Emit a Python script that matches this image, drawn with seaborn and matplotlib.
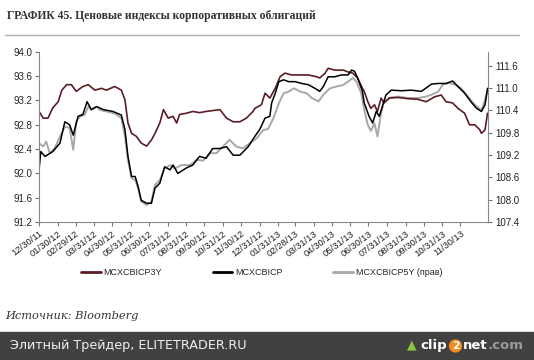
import matplotlib
matplotlib.use("Agg")
import matplotlib.pyplot as plt
import seaborn as sns
import pandas as pd
from matplotlib.patches import Rectangle
from matplotlib.lines import Line2D

# MCXCBICP3Y (left axis)
dates_3y = ["2011-12-30", "2012-01-06", "2012-01-14", "2012-01-22", "2012-01-31", "2012-02-06",
            "2012-02-14", "2012-02-22", "2012-03-01", "2012-03-12", "2012-03-21", "2012-04-01",
            "2012-04-12", "2012-04-20", "2012-05-04", "2012-05-15", "2012-05-21", "2012-05-26",
            "2012-06-01", "2012-06-09", "2012-06-17", "2012-06-26", "2012-07-04", "2012-07-10",
            "2012-07-18", "2012-07-24", "2012-08-01", "2012-08-09", "2012-08-15", "2012-08-20",
            "2012-08-31", "2012-09-11", "2012-09-22", "2012-10-03", "2012-10-26", "2012-11-06",
            "2012-11-17", "2012-11-28", "2012-12-09", "2012-12-20", "2012-12-23", "2013-01-03",
            "2013-01-09", "2013-01-17", "2013-01-26", "2013-02-03", "2013-02-11", "2013-02-22",
            "2013-03-05", "2013-03-22", "2013-04-05", "2013-04-10", "2013-04-19", "2013-04-24",
            "2013-05-05", "2013-05-19", "2013-05-27", "2013-06-04", "2013-06-12", "2013-06-20",
            "2013-06-23", "2013-06-29", "2013-07-04", "2013-07-10", "2013-07-15", "2013-07-21",
            "2013-07-26", "2013-08-04", "2013-08-18", "2013-09-04", "2013-09-20", "2013-10-04",
            "2013-10-18", "2013-10-29", "2013-11-06", "2013-11-17", "2013-11-26", "2013-12-07",
            "2013-12-15", "2013-12-24", "2014-01-01", "2014-01-04", "2014-01-10", "2014-01-14"]
values_3y = [93.02, 92.91, 92.91, 93.08, 93.18, 93.37,
             93.46, 93.46, 93.35, 93.43, 93.46, 93.37,
             93.40, 93.37, 93.43, 93.37, 93.21, 92.83,
             92.66, 92.61, 92.50, 92.45, 92.55, 92.66,
             92.83, 93.05, 92.91, 92.94, 92.83, 92.97,
             92.99, 93.02, 93.00, 93.02, 93.05, 92.91,
             92.85, 92.85, 92.91, 93.02, 93.07, 93.13,
             93.32, 93.24, 93.40, 93.59, 93.65, 93.62,
             93.62, 93.62, 93.59, 93.57, 93.65, 93.73,
             93.70, 93.70, 93.67, 93.65, 93.57, 93.40,
             93.35, 93.18, 93.07, 93.13, 93.02, 93.24,
             93.16, 93.24, 93.25, 93.23, 93.22, 93.18,
             93.26, 93.29, 93.18, 93.16, 93.07, 92.99,
             92.80, 92.80, 92.72, 92.66, 92.72, 92.99]

# MCXCBICP (left axis)
dates_cp = ["2011-12-30", "2012-01-02", "2012-01-09", "2012-01-22", "2012-02-03", "2012-02-11",
            "2012-02-19", "2012-02-25", "2012-03-04", "2012-03-12", "2012-03-19", "2012-03-26",
            "2012-04-04", "2012-04-15", "2012-05-01", "2012-05-15", "2012-05-21", "2012-05-26",
            "2012-06-01", "2012-06-07", "2012-06-12", "2012-06-17", "2012-06-26", "2012-07-04",
            "2012-07-10", "2012-07-18", "2012-07-26", "2012-08-04", "2012-08-09", "2012-08-17",
            "2012-08-31", "2012-09-11", "2012-09-22", "2012-10-03", "2012-10-14", "2012-10-26",
            "2012-11-06", "2012-11-17", "2012-11-28", "2012-12-12", "2012-12-23", "2012-12-31",
            "2013-01-09", "2013-01-17", "2013-01-20", "2013-01-26", "2013-02-01", "2013-02-09",
            "2013-02-17", "2013-02-28", "2013-03-11", "2013-03-22", "2013-04-02", "2013-04-10",
            "2013-04-16", "2013-04-24", "2013-05-05", "2013-05-16", "2013-05-27", "2013-06-02",
            "2013-06-07", "2013-06-12", "2013-06-20", "2013-06-23", "2013-07-01", "2013-07-07",
            "2013-07-13", "2013-07-18", "2013-07-24", "2013-07-29", "2013-08-07", "2013-08-24",
            "2013-09-09", "2013-09-26", "2013-10-13", "2013-10-24", "2013-11-06", "2013-11-17",
            "2013-11-26", "2013-12-07", "2013-12-19", "2013-12-27", "2014-01-04", "2014-01-10",
            "2014-01-14"]
values_cp = [92.05, 92.36, 92.28, 92.36, 92.50, 92.85,
             92.80, 92.63, 92.94, 92.97, 93.18, 93.05,
             93.10, 93.05, 93.02, 92.96, 92.72, 92.28,
             91.95, 91.95, 91.78, 91.56, 91.51, 91.51,
             91.76, 91.84, 92.11, 92.06, 92.14, 92.00,
             92.09, 92.14, 92.28, 92.25, 92.41, 92.41,
             92.44, 92.30, 92.30, 92.44, 92.61, 92.72,
             92.91, 92.94, 93.16, 93.32, 93.51, 93.54,
             93.51, 93.51, 93.48, 93.46, 93.40, 93.35,
             93.43, 93.59, 93.59, 93.62, 93.62, 93.70,
             93.68, 93.57, 93.35, 93.16, 92.94, 92.83,
             93.02, 92.94, 93.13, 93.29, 93.37, 93.36,
             93.37, 93.35, 93.47, 93.48, 93.48, 93.52,
             93.43, 93.32, 93.16, 93.07, 93.02, 93.13,
             93.40]

# MCXCBICP5Y (right axis)
dates_5y = ["2011-12-30", "2012-01-06", "2012-01-11", "2012-01-17", "2012-01-25", "2012-02-03",
            "2012-02-11", "2012-02-19", "2012-02-25", "2012-03-01", "2012-03-07", "2012-03-15",
            "2012-03-21", "2012-03-26", "2012-04-04", "2012-04-09", "2012-04-20", "2012-05-04",
            "2012-05-15", "2012-05-21", "2012-05-26", "2012-06-01", "2012-06-07", "2012-06-12",
            "2012-06-17", "2012-06-26", "2012-07-04", "2012-07-10", "2012-07-18", "2012-07-26",
            "2012-08-04", "2012-08-12", "2012-08-23", "2012-09-06", "2012-09-17", "2012-09-28",
            "2012-10-09", "2012-10-20", "2012-10-31", "2012-11-11", "2012-11-22", "2012-12-03",
            "2012-12-15", "2012-12-26", "2013-01-06", "2013-01-14", "2013-01-23", "2013-02-01",
            "2013-02-09", "2013-02-17", "2013-02-26", "2013-03-09", "2013-03-19", "2013-03-28",
            "2013-04-08", "2013-04-16", "2013-04-27", "2013-05-08", "2013-05-19", "2013-05-27",
            "2013-06-04", "2013-06-10", "2013-06-18", "2013-06-23", "2013-06-29", "2013-07-04",
            "2013-07-10", "2013-07-15", "2013-07-21", "2013-07-26", "2013-08-04", "2013-08-18",
            "2013-09-04", "2013-09-20", "2013-10-04", "2013-10-13", "2013-10-24", "2013-11-01",
            "2013-11-12", "2013-11-20", "2013-12-01", "2013-12-10", "2013-12-19", "2013-12-27",
            "2014-01-04", "2014-01-08", "2014-01-14"]
values_5y = [109.52, 109.43, 109.56, 109.25, 109.38, 109.70,
             109.96, 109.93, 109.34, 110.10, 110.23, 110.28,
             110.50, 110.41, 110.50, 110.41, 110.37, 110.32,
             110.19, 109.70, 109.07, 108.58, 108.53, 108.31,
             107.95, 107.86, 107.95, 108.40, 108.53, 108.84,
             108.93, 108.84, 108.93, 108.93, 109.07, 109.05,
             109.25, 109.25, 109.43, 109.61, 109.43, 109.38,
             109.52, 109.65, 109.87, 109.90, 110.19, 110.59,
             110.86, 110.90, 110.99, 110.90, 110.86, 110.73,
             110.64, 110.82, 110.99, 111.04, 111.08, 111.17,
             111.27, 111.17, 110.86, 110.41, 110.01, 109.85,
             110.05, 109.70, 110.32, 110.64, 110.74, 110.77,
             110.73, 110.73, 110.77, 110.82, 110.90, 111.10,
             111.13, 111.10, 110.99, 110.82, 110.64, 110.50,
             110.41, 110.59, 110.90]

tick_dates = ["2011-12-30", "2012-01-30", "2012-02-29", "2012-03-31", "2012-04-30", "2012-05-31",
              "2012-06-30", "2012-07-31", "2012-08-31", "2012-09-30", "2012-10-31", "2012-11-30",
              "2012-12-31", "2013-01-31", "2013-02-28", "2013-03-31", "2013-04-30", "2013-05-31",
              "2013-06-30", "2013-07-31", "2013-08-31", "2013-09-30", "2013-10-31", "2013-11-30"]
left_ticks = [91.2, 91.6, 92.0, 92.4, 92.8, 93.2, 93.6, 94.0]
right_ticks = [107.4, 108.0, 108.6, 109.2, 109.8, 110.4, 111.0, 111.6]
series_names = ["MCXCBICP3Y", "MCXCBICP", "MCXCBICP5Y (прав)"]
colors = ["#5a1e24", "#000000", "#a8a8a8"]

sns.set_style("ticks")
plt.rcParams["font.family"] = ["Liberation Sans", "DejaVu Sans"]

df3 = pd.DataFrame({"date": pd.to_datetime(dates_3y), "value": values_3y})
dfc = pd.DataFrame({"date": pd.to_datetime(dates_cp), "value": values_cp})
df5 = pd.DataFrame({"date": pd.to_datetime(dates_5y), "value": values_5y})

fig = plt.figure(figsize=(5.34, 3.6), dpi=100)
ax = fig.add_axes([0.073, 0.383, 0.841, 0.473])
ax2 = ax.twinx()

sns.lineplot(data=df5, x="date", y="value", ax=ax2, color=colors[2], linewidth=1.4)
sns.lineplot(data=df3, x="date", y="value", ax=ax, color=colors[0], linewidth=1.2)
sns.lineplot(data=dfc, x="date", y="value", ax=ax, color=colors[1], linewidth=1.1)
ax.set_zorder(ax2.get_zorder() + 1)
ax.patch.set_visible(False)

ax.set_xlim(pd.Timestamp("2011-12-30"), pd.Timestamp("2014-01-15"))
ax.set_ylim(91.2, 94.0)
ax2.set_ylim(107.4, 111.97)
ax.set_yticks(left_ticks)
ax.set_yticklabels([f"{v:.1f}" for v in left_ticks])
ax2.set_yticks(right_ticks)
ax2.set_yticklabels([f"{v:.1f}" for v in right_ticks])
ticks = pd.to_datetime(tick_dates)
ax.set_xticks(ticks)
ax.set_xticklabels([d.strftime("%m/%d/%y") for d in ticks], rotation=37, ha="right",
                   rotation_mode="anchor", fontsize=6.8, color="#222222")
ax.set_xlabel("")
ax.set_ylabel("")
ax2.set_ylabel("")

for a in (ax, ax2):
    for s in a.spines.values():
        s.set_visible(False)
    a.tick_params(axis="y", labelsize=7, colors="#777777", labelcolor="#222222",
                  length=3, width=0.8, pad=2)
ax.tick_params(axis="x", colors="#777777", labelcolor="#222222", length=3, width=0.8, pad=2)
ax.spines["left"].set_visible(True)
ax.spines["bottom"].set_visible(True)
ax2.spines["right"].set_visible(True)
for s in (ax.spines["left"], ax.spines["bottom"], ax2.spines["right"]):
    s.set_color("#888888")
    s.set_linewidth(0.8)

handles = [Line2D([], [], color=c, linewidth=2) for c in colors]
fig.legend(handles, series_names, loc="center", bbox_to_anchor=(0.49, 0.243), ncol=3,
           frameon=False, fontsize=6.5, handlelength=2.2, handletextpad=0.3, columnspacing=5.6)

# title and rule
fig.text(0.013, 0.955, "ГРАФИК 45. Ценовые индексы корпоративных облигаций",
         family=["Liberation Serif", "DejaVu Serif"], fontweight="bold", fontsize=8.4,
         color="#333333", va="center")
fig.add_artist(Line2D([0.01, 0.972], [0.903, 0.903], color="#b0b0b0", linewidth=1))

fig.text(0.01, 0.122, "Источник: Bloomberg", family=["DejaVu Serif"],
         style="italic", fontsize=8.2, color="#333333", va="center")

# bottom banner
fig.add_artist(Rectangle((0, 0), 1, 0.078, transform=fig.transFigure, color="#414141"))
fig.text(0.019, 0.039, "Элитный Трейдер, ELITETRADER.RU", family=["DejaVu Sans"],
         fontsize=9.2, color="#f0f0f0", va="center")
fig.text(0.762, 0.042, "▲", family=["DejaVu Sans"], fontsize=9, color="#8cc63f",
         va="center")
fig.text(0.787, 0.039, "clip", family=["DejaVu Sans"], fontweight="bold", fontsize=9.5,
         color="white", va="center")
fig.text(0.853, 0.039, "2", family=["DejaVu Sans"], fontweight="bold", fontsize=8,
         color="white", va="center", ha="center",
         bbox=dict(boxstyle="circle,pad=0.15", fc="#f08a1c", ec="none"))
fig.text(0.867, 0.039, "net", family=["DejaVu Sans"], fontweight="bold", fontsize=9.5,
         color="white", va="center")
fig.text(0.914, 0.039, ".com", family=["DejaVu Sans"], fontweight="bold", fontsize=9.5,
         color="#9a9a9a", va="center")

fig.savefig("out.png", dpi=100)
